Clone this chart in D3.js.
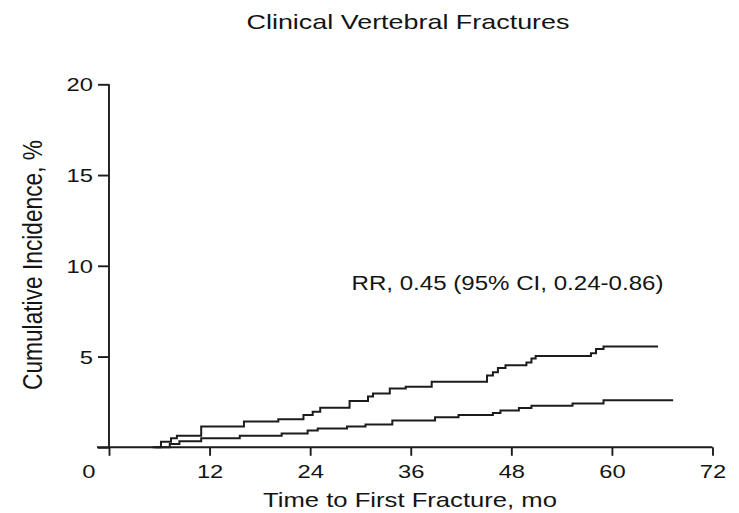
<!DOCTYPE html>
<html>
<head>
<meta charset="utf-8">
<script src="https://cdn.jsdelivr.net/npm/d3@7"></script>
<style>
  html, body { margin: 0; padding: 0; background: #fff; }
  svg { display: block; }
  text { font-family: "Liberation Sans", Arial, Helvetica, sans-serif; fill: #141414; }
</style>
</head>
<body>
<svg id="chart" width="739" height="513"></svg>
<script>
// Kaplan-Meier style cumulative incidence, step points [month, percent]
const placeboMonths = [5.2, 6.2, 7.4, 8.1, 11.0, 16.1, 20.2, 23.2, 24.3, 25.2, 28.7, 30.9, 31.5, 33.5, 35.4, 38.5, 45.1, 45.8, 46.4, 47.3, 49.8, 50.4, 50.9, 57.5, 58.1, 59.0];
const placeboPct    = [0,   0.3, 0.5, 0.63, 1.15, 1.42, 1.55, 1.78, 1.96, 2.18, 2.55, 2.8, 2.96, 3.24, 3.33, 3.61, 3.96, 4.14, 4.37, 4.52, 4.67, 4.89, 5.03, 5.18, 5.41, 5.56];
const placeboEnd = 65.5;

const treatedMonths = [5.5, 7.25, 8.4, 11.0, 15.6, 20.6, 23.7, 24.9, 28.4, 30.6, 33.8, 38.9, 41.7, 45.8, 46.7, 48.9, 50.4, 55.3, 59.0];
const treatedPct    = [0,   0.18, 0.33, 0.5, 0.63, 0.76, 0.92, 1.03, 1.15, 1.26, 1.48, 1.65, 1.78, 1.89, 2.03, 2.17, 2.29, 2.41, 2.59];
const treatedEnd = 67.3;

const xTicks = [0, 12, 24, 36, 48, 60, 72];
const yTicks = [0, 5, 10, 15, 20];

const titleText = "Clinical Vertebral Fractures";
const xTitle = "Time to First Fracture, mo";
const yTitle = "Cumulative Incidence, %";
const noteText = "RR, 0.45 (95% CI, 0.24-0.86)";

const svg = d3.select("#chart");
const ink = "#1c1c1c";
const stretch = 1.25;   // glyphs are set wide

const x = d3.scaleLinear().domain([0, 72]).range([109, 712.5]);
const y = d3.scaleLinear().domain([0, 20]).range([447.3, 84.3]);

// axes
const yAxis = d3.axisLeft(y).tickValues(yTicks).tickSize(11).tickSizeOuter(0).tickFormat(d => d === 0 ? "" : d);
const gy = svg.append("g").attr("transform", `translate(${x(0)},0)`).call(yAxis);
gy.select(".domain").remove();
gy.append("line").attr("x1", 0).attr("x2", 0).attr("y1", y(20)).attr("y2", y(0));
gy.selectAll("line").attr("stroke", ink).attr("stroke-width", 1.9);
gy.selectAll(".tick text")
  .attr("x", null).attr("dy", null)
  .attr("transform", "translate(-16,6.6) scale(" + stretch + ",1)")
  .attr("text-anchor", "end")
  .style("font-size", "19px").style("font-family", null).attr("fill", ink);

const xAxis = d3.axisBottom(x).tickValues(xTicks).tickSize(8.5).tickSizeOuter(0);
const gx = svg.append("g").attr("transform", `translate(0,${y(0)})`).call(xAxis);
gx.select(".domain").remove();
gx.append("line").attr("x1", 97).attr("x2", x(72)).attr("y1", 0).attr("y2", 0);
gx.selectAll("line").attr("stroke", ink).attr("stroke-width", 1.9);
gx.selectAll(".tick text")
  .attr("y", null).attr("dy", null)
  .attr("transform", d => "translate(" + (d === 0 ? -20.7 : 0) + ",30.5) scale(" + stretch + ",1)")
  .attr("text-anchor", "middle")
  .style("font-size", "19px").style("font-family", null).attr("fill", ink);
gx.attr("font-family", null).attr("font-size", null);
gy.attr("font-family", null).attr("font-size", null);

// step curves
const line = d3.line().x(d => x(d[0])).y(d => y(d[1])).curve(d3.curveStepAfter);
function steps(months, pct, end) {
  const pts = months.map((m, i) => [m, pct[i]]);
  pts.push([end, pct[pct.length - 1]]);
  return pts;
}
[[placeboMonths, placeboPct, placeboEnd], [treatedMonths, treatedPct, treatedEnd]].forEach(s => {
  svg.append("path")
    .datum(steps(s[0], s[1], s[2]))
    .attr("d", line)
    .attr("fill", "none")
    .attr("stroke", ink)
    .attr("stroke-width", 2);
});

// texts
svg.append("text").attr("x", 408).attr("y", 29)
  .attr("text-anchor", "middle").style("font-size", "21px")
  .attr("textLength", 323).attr("lengthAdjust", "spacingAndGlyphs")
  .text(titleText);

svg.append("text").attr("x", 410).attr("y", 507)
  .attr("text-anchor", "middle").style("font-size", "21px")
  .attr("textLength", 294).attr("lengthAdjust", "spacingAndGlyphs")
  .text(xTitle);

svg.append("text")
  .attr("transform", "translate(41.5,265) scale(1.2,1) rotate(-90)")
  .attr("text-anchor", "middle").style("font-size", "22.5px")
  .attr("textLength", 250).attr("lengthAdjust", "spacingAndGlyphs")
  .text(yTitle);

svg.append("text").attr("x", 351.5).attr("y", 290)
  .style("font-size", "20px")
  .attr("textLength", 312).attr("lengthAdjust", "spacingAndGlyphs")
  .text(noteText);
</script>
</body>
</html>
